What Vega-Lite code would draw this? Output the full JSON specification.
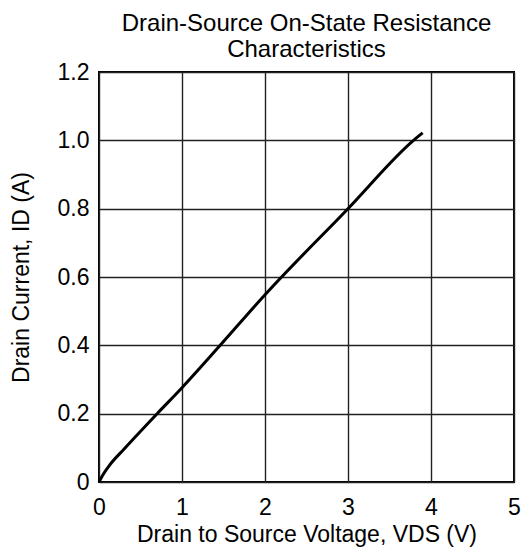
{
  "$schema": "https://vega.github.io/schema/vega-lite/v6.json",
  "width": 415,
  "height": 410,
  "autosize": "none",
  "padding": {"left": 99, "top": 72, "right": 7, "bottom": 75},
  "background": "white",
  "title": {
    "text": ["Drain-Source On-State Resistance", "Characteristics"],
    "font": "Liberation Sans",
    "fontSize": 24,
    "fontWeight": "normal",
    "color": "black",
    "lineHeight": 26,
    "offset": -1,
    "anchor": "middle"
  },
  "config": {
    "view": {"stroke": "black", "strokeWidth": 2},
    "axis": {
      "labelFont": "Liberation Sans",
      "titleFont": "Liberation Sans",
      "labelFontSize": 23,
      "titleFontSize": 23,
      "titleFontWeight": "normal",
      "labelColor": "black",
      "titleColor": "black",
      "labelFlush": false,
      "ticks": false,
      "domain": false,
      "grid": true,
      "gridColor": "#222",
      "gridWidth": 1.4,
      "gridOpacity": 1
    }
  },
  "data": {
    "values": [
      {"v": 0.0, "i": 0.0},
      {"v": 0.05, "i": 0.022},
      {"v": 0.13, "i": 0.05},
      {"v": 0.3, "i": 0.096},
      {"v": 0.7, "i": 0.2},
      {"v": 1.0, "i": 0.276},
      {"v": 1.46, "i": 0.4},
      {"v": 2.0, "i": 0.548},
      {"v": 3.0, "i": 0.8},
      {"v": 3.79, "i": 1.0},
      {"v": 3.9, "i": 1.022}
    ]
  },
  "mark": {"type": "line", "color": "black", "strokeWidth": 3, "interpolate": "monotone"},
  "encoding": {
    "x": {
      "field": "v",
      "type": "quantitative",
      "scale": {"domain": [0, 5], "nice": false},
      "axis": {
        "values": [0, 1, 2, 3, 4, 5],
        "title": "Drain to Source Voltage, VDS (V)",
        "labelPadding": 14,
        "titlePadding": 4
      }
    },
    "y": {
      "field": "i",
      "type": "quantitative",
      "scale": {"domain": [0, 1.2], "nice": false},
      "axis": {
        "values": [0, 0.2, 0.4, 0.6, 0.8, 1.0, 1.2],
        "labelExpr": "datum.value == 0 ? '0' : format(datum.value, '.1f')",
        "title": "Drain Current, ID (A)",
        "labelPadding": 10,
        "titlePadding": 24
      }
    }
  }
}
